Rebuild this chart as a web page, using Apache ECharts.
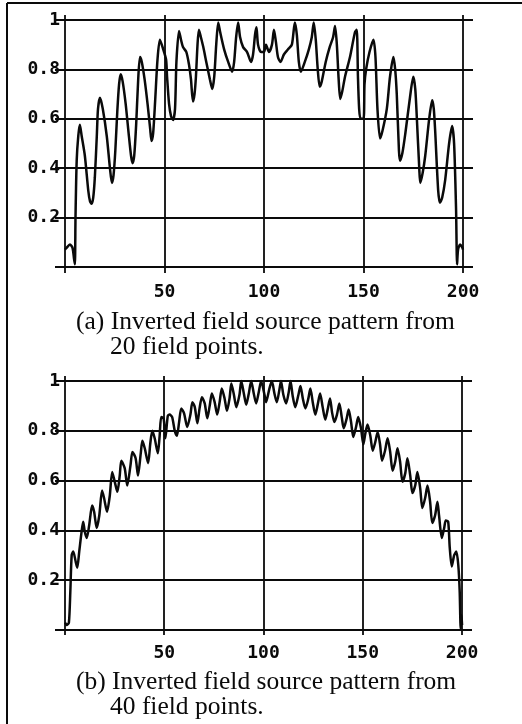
<!DOCTYPE html>
<html>
<head>
<meta charset="utf-8">
<title>Inverted field source pattern</title>
<script src="https://cdn.jsdelivr.net/npm/echarts@6.0.0/dist/echarts.min.js"></script>
<style>
  html, body { margin: 0; padding: 0; background: #fff; }
  #main { width: 522px; height: 724px; }
</style>
</head>
<body>
<div id="main"></div>
<script>
// (a) 20 field points
var xsA = [0, 0.8, 2.5, 3.8, 4.6, 5.0, 5.3, 5.9, 6.7, 7.5, 8.4, 10, 11.7, 12.6, 13.4, 14.2, 15, 16, 16.6, 17.6,
  19, 21, 22.6, 23.6, 24.4, 25.3, 26.3, 27.2, 28, 29, 30.5, 32, 33.2, 34, 34.8, 35.8, 36.8, 37.7, 38.6, 40,
  41.5, 42.8, 43.5, 44.3, 45.3, 46.5, 47.7, 49.4, 50.8, 51.3, 52.3, 53.3, 54.3, 55.3, 56, 57.3, 58.3, 59.3, 61, 62.3,
  63.3, 64.3, 65.1, 65.8, 66.6, 67.3, 68.3, 69.5, 71, 72.8, 74, 75, 76, 77, 78, 80, 82, 84, 85, 86,
  87, 88, 89.5, 91.5, 93.5, 94.5, 95.5, 96.2, 97, 98.5, 100, 101, 102.5, 104, 105, 106, 107, 108.3, 110, 112,
  114, 115.5, 116.5, 117.5, 118.5, 120.5, 122.5, 124, 125, 126, 127, 128, 129, 131, 133, 134.7, 135.7, 136.6, 137.5, 138.3,
  139.3, 140.7, 143.2, 145.7, 146.6, 147.2, 147.8, 148.5, 150, 150.5, 151.3, 153, 155, 156, 157, 158.3, 159.5, 161.7, 163.3, 165,
  165.9, 166.7, 167.8, 168.3, 169.5, 171, 173.4, 175, 176, 176.8, 178, 178.5, 179.7, 181, 183, 184.5, 185.3, 186, 187.5, 188.4,
  189.5, 191, 193, 194.5, 195.5, 196.5, 197, 197.5, 198.5, 199.5, 200];
var ysA = [0.07, 0.077, 0.09, 0.077, 0.03, 0.01, 0.2, 0.43, 0.53, 0.575, 0.53, 0.45, 0.31, 0.265, 0.255, 0.28, 0.36, 0.53, 0.64, 0.685,
  0.64, 0.53, 0.40, 0.34, 0.37, 0.47, 0.63, 0.74, 0.78, 0.75, 0.66, 0.54, 0.45, 0.42, 0.45, 0.58, 0.76, 0.85, 0.83, 0.76,
  0.66, 0.56, 0.51, 0.54, 0.67, 0.84, 0.92, 0.88, 0.84, 0.77, 0.66, 0.61, 0.595, 0.64, 0.83, 0.955, 0.92, 0.89, 0.87, 0.82,
  0.76, 0.67, 0.70, 0.77, 0.90, 0.96, 0.93, 0.89, 0.83, 0.76, 0.72, 0.77, 0.90, 0.99, 0.95, 0.88, 0.83, 0.79, 0.83, 0.93,
  0.99, 0.93, 0.89, 0.87, 0.83, 0.86, 0.94, 0.97, 0.90, 0.87, 0.87, 0.90, 0.87, 0.90, 0.96, 0.91, 0.85, 0.83, 0.86, 0.88,
  0.90, 0.99, 0.94, 0.83, 0.79, 0.83, 0.88, 0.93, 0.99, 0.92, 0.80, 0.73, 0.75, 0.83, 0.89, 0.93, 0.975, 0.90, 0.76, 0.68,
  0.71, 0.77, 0.85, 0.95, 0.96, 0.77, 0.64, 0.60, 0.60, 0.74, 0.80, 0.87, 0.92, 0.85, 0.64, 0.52, 0.55, 0.64, 0.77, 0.85,
  0.80, 0.70, 0.47, 0.43, 0.46, 0.54, 0.69, 0.77, 0.72, 0.60, 0.40, 0.34, 0.38, 0.45, 0.60, 0.675, 0.64, 0.55, 0.31, 0.26,
  0.28, 0.35, 0.50, 0.57, 0.50, 0.23, 0.01, 0.07, 0.09, 0.08, 0.07];

// (b) 40 field points
var xsB = [0, 1, 2, 2.7, 3.4, 4.2, 5.4, 6.2, 7.2, 8.4, 9.2, 10, 11, 12.2, 13.7, 14.7, 16, 17.3, 18.7, 19.7,
  21.2, 22.6, 23.8, 25.1, 26.4, 27.6, 28.4, 30.1, 31.4, 33, 34, 35.6, 36.8, 38.2, 39, 40.2, 41.9, 43, 44, 45.2,
  46.8, 47.7, 48.5, 49.7, 50.6, 51.8, 52.7, 54, 55.3, 56.4, 57.5, 58.6, 60, 61.6, 63.2, 64.2, 65.4, 66.7, 67.8, 69,
  70.4, 71.7, 72.9, 74, 75.4, 76.7, 77.9, 79, 80.4, 81.6, 82.9, 83.8, 85.1, 86.3, 87.9, 88.8, 90.1, 91.3, 92.6, 93.8,
  95.1, 96.3, 97.6, 98.8, 100.5, 101.3, 103, 104.2, 105.5, 106.7, 108, 108.8, 110, 111.4, 112.7, 113.6, 114.7, 116, 117.6, 118.6,
  119.8, 121.1, 122.6, 123.6, 124.8, 126.1, 127.3, 128.5, 129.8, 131.1, 132.3, 133.5, 134.5, 135.7, 137, 138.2, 139.4, 140.4, 141.9, 142.9,
  144.1, 145.2, 146.6, 147.7, 149.1, 150.3, 151.3, 152.4, 153.8, 155, 156.3, 157.5, 158.7, 159.7, 161.2, 162.5, 163.8, 165, 166.3, 167.5,
  168.8, 170, 171.4, 172.5, 173.9, 175, 176.4, 177.5, 178.9, 180, 181.4, 182.6, 183.9, 185, 186.4, 187.6, 188.4, 189.8, 191, 191.8,
  193, 193.8, 194.8, 196, 197.1, 198.1, 198.8, 199.3, 199.7, 200];
var ysB = [0.03, 0.02, 0.03, 0.15, 0.30, 0.315, 0.275, 0.25, 0.315, 0.395, 0.435, 0.395, 0.37, 0.42, 0.50, 0.475, 0.41, 0.46, 0.56, 0.53,
  0.475, 0.54, 0.635, 0.595, 0.555, 0.62, 0.68, 0.65, 0.58, 0.66, 0.715, 0.69, 0.62, 0.71, 0.76, 0.73, 0.67, 0.75, 0.80, 0.77,
  0.71, 0.78, 0.855, 0.85, 0.77, 0.86, 0.865, 0.855, 0.80, 0.78, 0.835, 0.89, 0.87, 0.815, 0.865, 0.915, 0.895, 0.83, 0.89, 0.935,
  0.91, 0.85, 0.90, 0.95, 0.915, 0.865, 0.915, 0.97, 0.93, 0.88, 0.93, 0.99, 0.945, 0.895, 0.945, 1.0, 0.95, 0.905, 0.95, 1.0,
  0.95, 0.91, 0.955, 1.0, 0.945, 0.915, 0.97, 1.0, 0.95, 0.915, 0.965, 1.0, 0.945, 0.91, 0.955, 1.0, 0.94, 0.895, 0.945, 0.98,
  0.93, 0.89, 0.93, 0.97, 0.915, 0.865, 0.905, 0.95, 0.895, 0.845, 0.885, 0.93, 0.875, 0.835, 0.865, 0.91, 0.855, 0.81, 0.85, 0.885,
  0.835, 0.775, 0.815, 0.855, 0.81, 0.745, 0.79, 0.825, 0.78, 0.72, 0.755, 0.795, 0.745, 0.68, 0.72, 0.77, 0.715, 0.64, 0.675, 0.73,
  0.675, 0.595, 0.63, 0.69, 0.62, 0.55, 0.58, 0.635, 0.57, 0.49, 0.53, 0.58, 0.515, 0.43, 0.46, 0.515, 0.46, 0.37, 0.41, 0.44,
  0.435, 0.33, 0.255, 0.30, 0.315, 0.26, 0.155, 0.005, 0.06, 0.02];

var xTickLabels = [50, 100, 150, 200];
var yTickLabels = [0.2, 0.4, 0.6, 0.8, 1];
var xGridLines = [0, 50, 100, 150, 200];
var yGridLines = [0, 0.2, 0.4, 0.6, 0.8, 1];
var captionA = ['(a) Inverted field source pattern from', '20 field points.'];
var captionB = ['(b) Inverted field source pattern from', '40 field points.'];

function pairs(xs, ys) {
  var out = [];
  for (var i = 0; i < xs.length; i++) out.push([xs[i], ys[i]]);
  return out;
}

var ink = '#0a0a0a';
var tickFont = {
  fontFamily: 'DejaVu Sans Mono',
  fontWeight: 'bold',
  fontSize: 18,
  color: ink
};

function xAxisFor(idx, margin) {
  return {
    type: 'value', gridIndex: idx, min: -5, max: 205,
    axisLine: { show: false }, axisTick: { show: false }, splitLine: { show: false },
    axisLabel: Object.assign({ customValues: xTickLabels, margin: margin }, tickFont)
  };
}
function yAxisFor(idx, min) {
  return {
    type: 'value', gridIndex: idx, min: min, max: 1.02,
    axisLine: { show: false }, axisTick: { show: false }, splitLine: { show: false },
    axisLabel: Object.assign({ customValues: yTickLabels, margin: -5 }, tickFont)
  };
}

var gridMarks = {
  silent: true,
  symbol: 'none',
  animation: false,
  label: { show: false },
  lineStyle: { color: ink, width: 1.8, type: 'solid' },
  data: xGridLines.map(function (v) { return { xAxis: v }; })
    .concat(yGridLines.map(function (v) { return { yAxis: v }; }))
};

function curve(idx, xs, ys) {
  return {
    type: 'line',
    xAxisIndex: idx, yAxisIndex: idx,
    data: pairs(xs, ys),
    showSymbol: false,
    smooth: 0.25,
    animation: false,
    lineStyle: { color: ink, width: 2.5 },
    markLine: gridMarks,
    z: 3
  };
}

function captionText(lines, top) {
  var captionStyle = { fill: ink, fontFamily: 'Liberation Serif', fontSize: 25.5, textVerticalAlign: 'middle' };
  return [
    { type: 'text', left: 76, top: top, style: Object.assign({ text: lines[0] }, captionStyle) },
    { type: 'text', left: 110, top: top + 25, style: Object.assign({ text: lines[1] }, captionStyle) }
  ];
}

var chart = echarts.init(document.getElementById('main'), null, { renderer: 'canvas' });
chart.setOption({
  backgroundColor: '#fff',
  animation: false,
  grid: [
    { left: 55, top: 15, width: 418, height: 258 },
    { left: 55, top: 376, width: 417, height: 259 }
  ],
  xAxis: [xAxisFor(0, 10), xAxisFor(1, 9)],
  yAxis: [yAxisFor(0, -0.025), yAxisFor(1, -0.02)],
  series: [curve(0, xsA, ysA), curve(1, xsB, ysB)],
  graphic: [
    { type: 'line', shape: { x1: 7, y1: 3, x2: 522, y2: 3 }, style: { stroke: ink, lineWidth: 2 } },
    { type: 'line', shape: { x1: 7, y1: 3, x2: 7, y2: 724 }, style: { stroke: ink, lineWidth: 2 } }
  ].concat(captionText(captionA, 309)).concat(captionText(captionB, 669))
});
</script>
</body>
</html>
